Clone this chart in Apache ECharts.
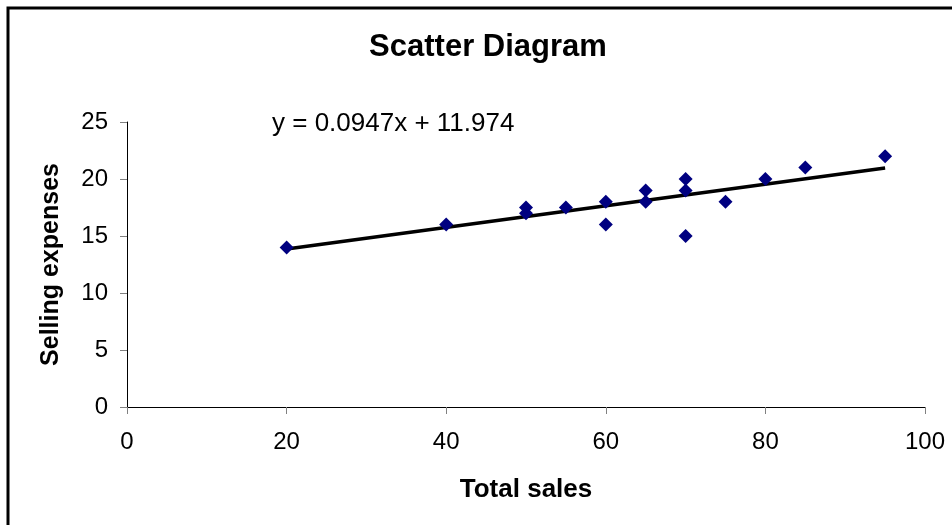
<!DOCTYPE html>
<html>
<head>
<meta charset="utf-8">
<script src="https://cdn.jsdelivr.net/npm/echarts@6/dist/echarts.min.js"></script>
<style>
  html, body { margin: 0; padding: 0; background: #fff; }
  #chart { width: 952px; height: 525px; }
</style>
</head>
<body>
<div id="chart"></div>
<script>
// Total sales vs. selling expenses
const totalSales = [20, 40, 50, 50, 55, 60, 60, 65, 65, 70, 70, 70, 75, 80, 85, 95];
const sellingExpenses = [14, 16, 17.5, 17, 17.5, 18, 16, 19, 18, 20, 19, 15, 18, 20, 21, 22];

// Linear trendline as stated in the equation label
const slope = 0.0947;
const intercept = 11.974;
const trendRange = [20, 95];

const xTicks = [0, 20, 40, 60, 80, 100];
const yTicks = [0, 5, 10, 15, 20, 25];

const points = totalSales.map((x, i) => [x, sellingExpenses[i]]);
const trendPoints = trendRange.map(x => [x, slope * x + intercept]);
const equationText = 'y = ' + slope + 'x + ' + intercept;

const font = '"Liberation Sans", Arial, sans-serif';

const chart = echarts.init(document.getElementById('chart'), null, { renderer: 'canvas' });
chart.setOption({
  animation: false,
  backgroundColor: '#fff',
  grid: { left: 127, right: 27, top: 122, bottom: 118 },
  xAxis: {
    type: 'value',
    min: xTicks[0],
    max: xTicks[xTicks.length - 1],
    interval: 20,
    name: 'Total sales',
    nameLocation: 'middle',
    nameGap: 70,
    nameTextStyle: { fontFamily: font, fontSize: 26, fontWeight: 'bold', color: '#000' },
    axisLine: { show: true, lineStyle: { color: '#000', width: 1 } },
    axisTick: { show: true, length: 7, lineStyle: { color: '#808080' } },
    axisLabel: { fontFamily: font, fontSize: 24, color: '#000', margin: 23 },
    splitLine: { show: false }
  },
  yAxis: {
    type: 'value',
    min: yTicks[0],
    max: yTicks[yTicks.length - 1],
    interval: 5,
    name: 'Selling expenses',
    nameLocation: 'middle',
    nameGap: 63,
    nameTextStyle: { fontFamily: font, fontSize: 25, fontWeight: 'bold', color: '#000' },
    axisLine: { show: true, lineStyle: { color: '#000', width: 1 } },
    axisTick: { show: true, length: 7, lineStyle: { color: '#808080' } },
    axisLabel: { fontFamily: font, fontSize: 24, color: '#000', margin: 19 },
    splitLine: { show: false }
  },
  graphic: [
    {
      type: 'rect',
      shape: { x: 8, y: 8, width: 980, height: 560 },
      style: { fill: 'none', stroke: '#000', lineWidth: 3 },
      silent: true
    },
    {
      type: 'text',
      x: 488,
      y: 47,
      style: {
        text: 'Scatter Diagram',
        fontFamily: font,
        fontSize: 31,
        fontWeight: 'bold',
        fill: '#000',
        textAlign: 'center',
        textVerticalAlign: 'middle'
      },
      silent: true
    },
    {
      type: 'text',
      x: 272,
      y: 124,
      style: {
        text: equationText,
        fontFamily: font,
        fontSize: 26,
        fill: '#000',
        textVerticalAlign: 'middle'
      },
      silent: true
    }
  ],
  series: [
    {
      type: 'line',
      data: trendPoints,
      showSymbol: false,
      lineStyle: { color: '#000', width: 3.5 },
      z: 2,
      silent: true
    },
    {
      type: 'scatter',
      data: points,
      symbol: 'diamond',
      symbolSize: 14,
      itemStyle: { color: '#000080', opacity: 1 },
      z: 3
    }
  ]
});
</script>
</body>
</html>
